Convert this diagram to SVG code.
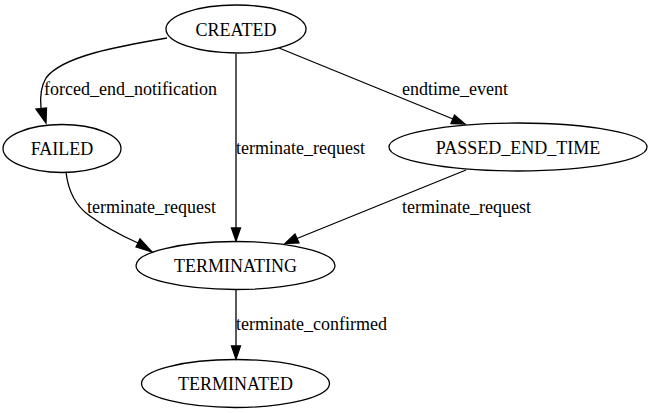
<svg xmlns="http://www.w3.org/2000/svg" width="652" height="413" viewBox="0 0 652 413">
<style>
.n ellipse{fill:none;stroke:#000;stroke-width:1.3}
.t{font-family:'Liberation Serif','Times New Roman','DejaVu Serif',serif;font-size:18px;fill:#000}
.n text{text-anchor:middle}
.e path{fill:none;stroke:#000;stroke-width:1.3}
.e polygon{fill:#000;stroke:#000;stroke-width:1.3}
</style>
<rect width="652" height="413" fill="#fff"/>
<g class="t" font-family="Liberation Serif, Times New Roman, serif">
<g id="edges" class="e">
<g id="e1">
<path d="M167,38 C120,46 62,56 46,78 C40,88 40,98 41,108"/>
<polygon points="36,109 46,123 46.5,108"/>
<text x="44" y="95">forced_end_notification</text>
</g>
<g id="e2">
<path d="M236,54 L236,228"/>
<polygon points="231.5,228 236,241 240.5,228"/>
<text x="236" y="154">terminate_request</text>
</g>
<g id="e3">
<path d="M279,48 L453,119"/>
<polygon points="451,123.5 465,124 454.5,115"/>
<text x="402" y="95">endtime_event</text>
</g>
<g id="e4">
<path d="M66,172 C68,190 74,205 90,216 C105,227 120,235 138,243"/>
<polygon points="136,247 152,252 140,239"/>
<text x="87" y="213">terminate_request</text>
</g>
<g id="e5">
<path d="M466,170 L297,238.5"/>
<polygon points="295,234 285,243.5 299,243"/>
<text x="402" y="213">terminate_request</text>
</g>
<g id="e6">
<path d="M236,290 L236,346"/>
<polygon points="231.5,346 236,359 240.5,346"/>
<text x="236" y="330">terminate_confirmed</text>
</g>
</g>
<g id="CREATED" class="n"><ellipse cx="236" cy="29" rx="70" ry="24"/><text x="236" y="35.5">CREATED</text></g>
<g id="FAILED" class="n"><ellipse cx="62" cy="148.5" rx="59" ry="24"/><text x="62" y="155">FAILED</text></g>
<g id="PASSED_END_TIME" class="n"><ellipse cx="518" cy="147" rx="129" ry="24"/><text x="518" y="153.5">PASSED_END_TIME</text></g>
<g id="TERMINATING" class="n"><ellipse cx="235.5" cy="265.5" rx="99.5" ry="24"/><text x="235.5" y="272">TERMINATING</text></g>
<g id="TERMINATED" class="n"><ellipse cx="235.5" cy="383.5" rx="94" ry="24"/><text x="235.5" y="390">TERMINATED</text></g>
</g>
</svg>
